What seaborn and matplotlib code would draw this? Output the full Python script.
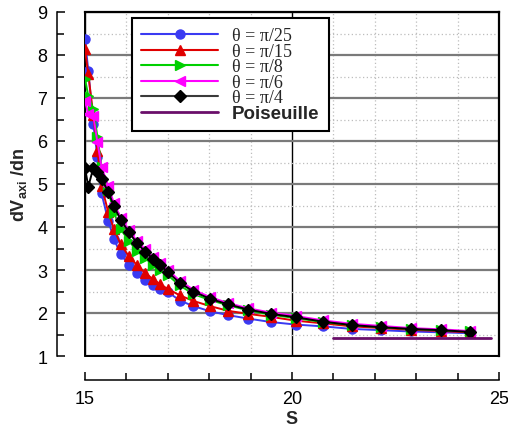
import matplotlib
matplotlib.use("Agg")
import matplotlib.pyplot as plt
import numpy as np
import pandas as pd
import seaborn as sns
from matplotlib.lines import Line2D
from matplotlib.ticker import MultipleLocator

# Arc-length positions shared by all profiles
s_values = [15.00, 15.08, 15.20, 15.30, 15.40, 15.56, 15.70, 15.86, 16.06, 16.25,
            16.45, 16.64, 16.81, 17.00, 17.29, 17.62, 18.02, 18.46, 18.94, 19.49,
            20.10, 20.74, 21.44, 22.15, 22.87, 23.60, 24.31]

dv_pi25 = [8.37, 7.63, 6.40, 5.62, 4.78, 4.15, 3.72, 3.37, 3.12, 2.93,
           2.76, 2.64, 2.56, 2.49, 2.29, 2.16, 2.04, 1.95, 1.87, 1.79,
           1.73, 1.69, 1.63, 1.60, 1.57, 1.55, 1.53]
dv_pi15 = [8.13, 7.55, 6.60, 5.77, 4.96, 4.35, 3.95, 3.60, 3.32, 3.12,
           2.93, 2.79, 2.67, 2.56, 2.41, 2.28, 2.16, 2.05, 1.98, 1.91,
           1.82, 1.76, 1.69, 1.65, 1.61, 1.58, 1.55]
dv_pi8 = [7.44, 7.05, 6.75, 6.10, 5.40, 4.85, 4.33, 3.95, 3.68, 3.45,
          3.28, 3.12, 3.00, 2.88, 2.64, 2.44, 2.30, 2.18, 2.06, 1.96,
          1.88, 1.79, 1.72, 1.67, 1.63, 1.60, 1.57]
dv_pi6 = [6.92, 6.63, 6.59, 5.97, 5.40, 4.95, 4.55, 4.22, 3.93, 3.68,
          3.48, 3.30, 3.16, 3.00, 2.75, 2.54, 2.37, 2.23, 2.11, 2.01,
          1.93, 1.83, 1.75, 1.70, 1.65, 1.62, 1.58]
dv_pi4 = [5.37, 4.94, 5.37, 5.29, 5.12, 4.82, 4.48, 4.17, 3.88, 3.63,
          3.43, 3.26, 3.12, 2.95, 2.70, 2.50, 2.33, 2.20, 2.08, 1.98,
          1.90, 1.80, 1.72, 1.67, 1.63, 1.60, 1.56]

poiseuille_s = [21.0, 24.8]
poiseuille_dv = [1.41, 1.41]

theta_labels = ["θ = π/25", "θ = π/15", "θ = π/8", "θ = π/6", "θ = π/4"]
series = [dv_pi25, dv_pi15, dv_pi8, dv_pi6, dv_pi4]
colors = ["#3a3af2", "#e00000", "#00d000", "#ff00ff", "#000000"]
marker_shapes = ["o", "^", ">", "<", "D"]
poiseuille_color = "#6a0f6a"

df = pd.DataFrame({
    "S": np.tile(s_values, len(series)),
    "dV": np.concatenate(series),
    "theta": np.repeat(theta_labels, len(s_values)),
})

sns.set_theme(style="white")
plt.rcParams["font.family"] = ["Liberation Sans", "DejaVu Sans"]
plt.rcParams["mathtext.fontset"] = "custom"
plt.rcParams["mathtext.rm"] = "Liberation Sans"
plt.rcParams["mathtext.bf"] = "Liberation Sans:bold"

fig = plt.figure(figsize=(5.08, 4.27), dpi=100)
ax = fig.add_axes([85 / 508, 1 - 357 / 427, 414 / 508, 344 / 427])

palette = dict(zip(theta_labels, colors))
markers = dict(zip(theta_labels, marker_shapes))
sns.lineplot(data=df, x="S", y="dV", hue="theta", style="theta",
             hue_order=theta_labels, style_order=theta_labels,
             palette=palette, markers=markers, dashes=False,
             estimator=None, sort=False, linewidth=1.4, markersize=6.5,
             legend=False, ax=ax, zorder=3)
for line in ax.lines:
    line.set_markeredgecolor(line.get_color())
    line.set_markeredgewidth(1.0)

sns.lineplot(x=poiseuille_s, y=poiseuille_dv, color=poiseuille_color,
             linewidth=2.0, ax=ax, zorder=3)

ax.set_xlim(15, 25)
ax.set_ylim(1, 9)
ax.xaxis.set_major_locator(MultipleLocator(5))
ax.xaxis.set_minor_locator(MultipleLocator(1))
ax.yaxis.set_major_locator(MultipleLocator(1))
ax.yaxis.set_minor_locator(MultipleLocator(0.5))

# Grid: heavy grey horizontals, dotted minor lines, black vertical at S = 20
ax.set_axisbelow(True)
ax.grid(which="major", axis="y", color="#7a7a7a", linewidth=1.6, linestyle="-")
ax.grid(which="major", axis="x", color="black", linewidth=1.0, linestyle="-")
ax.grid(which="minor", axis="both", color="#bdbdbd", linewidth=0.9,
        linestyle=(0, (1, 2)))

# Detached axes with inward ticks, plus a closed frame around the data
ax.spines["left"].set_position(("outward", 20))
ax.spines["bottom"].set_position(("outward", 17.3))
for side in ["left", "bottom"]:
    ax.spines[side].set_color("black")
    ax.spines[side].set_linewidth(1.1)
for side in ["top", "right"]:
    ax.spines[side].set_color("black")
    ax.spines[side].set_linewidth(1.6)
ax.axvline(15, color="black", linewidth=1.4, zorder=2.5, clip_on=False)
ax.axhline(1, color="black", linewidth=1.4, zorder=2.5, clip_on=False)

ax.tick_params(axis="both", which="major", direction="in", length=6, width=1.1,
               labelsize=13, colors="black", top=False, right=False,
               left=True, bottom=True)
ax.tick_params(axis="both", which="minor", direction="in", length=5, width=1.1,
               top=False, right=False, left=True, bottom=True, colors="black")
ax.tick_params(axis="y", which="major", pad=7)
ax.tick_params(axis="x", which="major", pad=7.5)

ax.set_xlabel("S", fontsize=13, fontweight="bold", labelpad=2)
ax.set_ylabel(r"dV$_{\mathbf{axi}}$ /dn", fontsize=13, fontweight="bold",
              labelpad=6)

handles = [Line2D([], [], color=c, marker=m, markersize=6.5, markeredgecolor=c,
                  linewidth=1.5)
           for c, m in zip(colors, marker_shapes)]
handles[-1].set_color("#3a3a3a")
handles[-1].set_markerfacecolor("black")
handles[-1].set_markeredgecolor("black")
handles.append(Line2D([], [], color=poiseuille_color, linewidth=2.0))
leg = ax.legend(handles, theta_labels + ["Poiseuille"], loc="upper left",
                bbox_to_anchor=(47 / 414, 338 / 344), borderaxespad=0,
                fontsize=12, handlelength=4.6, handletextpad=0.85,
                labelspacing=-0.09, borderpad=0.55, frameon=True, fancybox=False,
                framealpha=1, edgecolor="black")
leg.get_frame().set_linewidth(1.5)
leg.set_zorder(5)
for txt in leg.get_texts()[:-1]:
    txt.set_fontfamily(["Liberation Serif", "DejaVu Serif"])
    txt.set_fontsize(13)
leg.get_texts()[-1].set_fontweight("bold")
leg.get_texts()[-1].set_fontsize(13.5)

fig.savefig("out.png", dpi=100)
